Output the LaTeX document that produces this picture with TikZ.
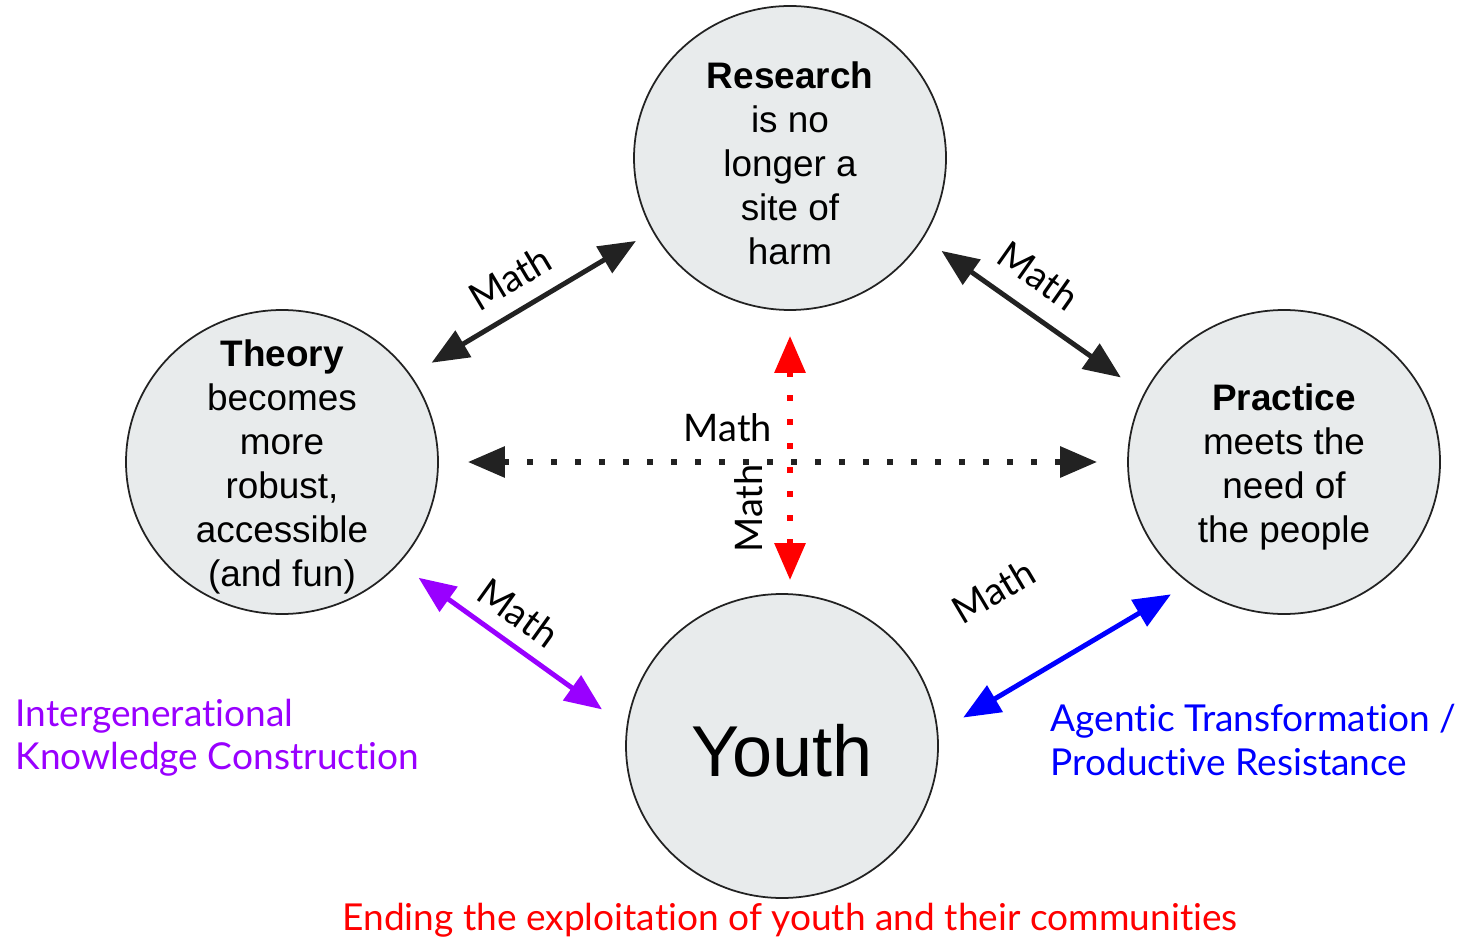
\documentclass[tikz,border=0pt]{standalone}
\usepackage{fontspec}
\setmainfont{Liberation Sans}
\newfontfamily\latofont[Ligatures={NoCommon,NoRequired}]{Lato}
\usetikzlibrary{arrows.meta,shapes.geometric}
\definecolor{bubblegray}{HTML}{E8EBEC}
\definecolor{ink}{HTML}{222222}
\definecolor{violetlink}{HTML}{9900FF}
\definecolor{bluelink}{HTML}{0000FF}
\definecolor{redlink}{HTML}{FF0000}

\begin{document}
\begin{tikzpicture}[>={Triangle[length=0.37cm,width=0.30cm]},
 bubble/.style={ellipse,draw=ink,line width=0.5pt,fill=bubblegray,minimum width=3.12cm,minimum height=3.04cm,inner sep=0pt},
 bubbletext/.style={align=center,inner sep=0pt,yshift=-0.05cm,font=\fontsize{10.5}{12.5}\selectfont},
 link/.style={<->,line width=1.4pt},
 dotlink/.style={<->,line width=0.06cm,dash pattern=on 0.06cm off 0.18cm},
 mathlbl/.style={sloped,text=black,inner sep=2pt,font=\latofont\fontsize{10.8}{13}\selectfont},
 sidetext/.style={align=left,inner sep=0pt,font=\latofont\fontsize{10.55}{12.3}\selectfont}]
 \useasboundingbox (0,0) rectangle (14.59,9.38);
 \node[bubble,label={[bubbletext]center:{\textbf{Research}\\is no\\longer a\\site of\\harm}}] (research) at (7.90,7.80) {};
 \node[bubble,label={[bubbletext]center:{\textbf{Theory}\\becomes\\more\\robust,\\accessible\\(and fun)}}] (theory) at (2.82,4.76) {};
 \node[bubble,label={[bubbletext]center:{\textbf{Practice}\\meets the\\need of\\the people}}] (practice) at (12.84,4.76) {};
 \node[bubble,label={[bubbletext,font=\fontsize{20.5}{24}\selectfont]center:Youth}] (youth) at (7.82,1.92) {};
 % math between every pair
 \draw[link,ink,shorten <=0.24cm,shorten >=0.19cm] (theory.34) -- (research.208) node[mathlbl,pos=0.48,above=0.09cm]{Math};
 \draw[link,ink,shorten <=0.22cm,shorten >=0.28cm] (research.-31) -- (practice.154) node[mathlbl,pos=0.43,above=0.12cm]{Math};
 \draw[dotlink,ink,shorten <=0.29cm,shorten >=0.30cm] (theory.east) -- (practice.west) node[mathlbl,pos=0.42,above=0.10cm]{Math};
 \draw[dotlink,redlink,shorten <=0.13cm,shorten >=0.25cm] (research.south |- youth.north) -- (research.south) node[mathlbl,pos=0.30,above=0.17cm]{Math};
 \draw[link,violetlink,shorten <=0.24cm,shorten >=0.30cm] (theory.-41) -- (youth.173) node[mathlbl,pos=0.45,above=0.06cm]{Math};
 \draw[link,bluelink,shorten <=0.29cm,shorten >=0.21cm] (youth.5) -- (practice.232) node[mathlbl,pos=0.41,above=0.70cm]{Math};
 \node[sidetext,violetlink,anchor=west] (intergen) at (0.15,2.00) {Intergenerational\\Knowledge Construction};
 \node[sidetext,bluelink,anchor=west] (agentic) at (10.50,1.98) {Agentic Transformation /\\Productive Resistance};
 \node[sidetext,redlink] (ending) at (7.90,0.18) {Ending the exploitation of youth and their communities};
\end{tikzpicture}
\end{document}
